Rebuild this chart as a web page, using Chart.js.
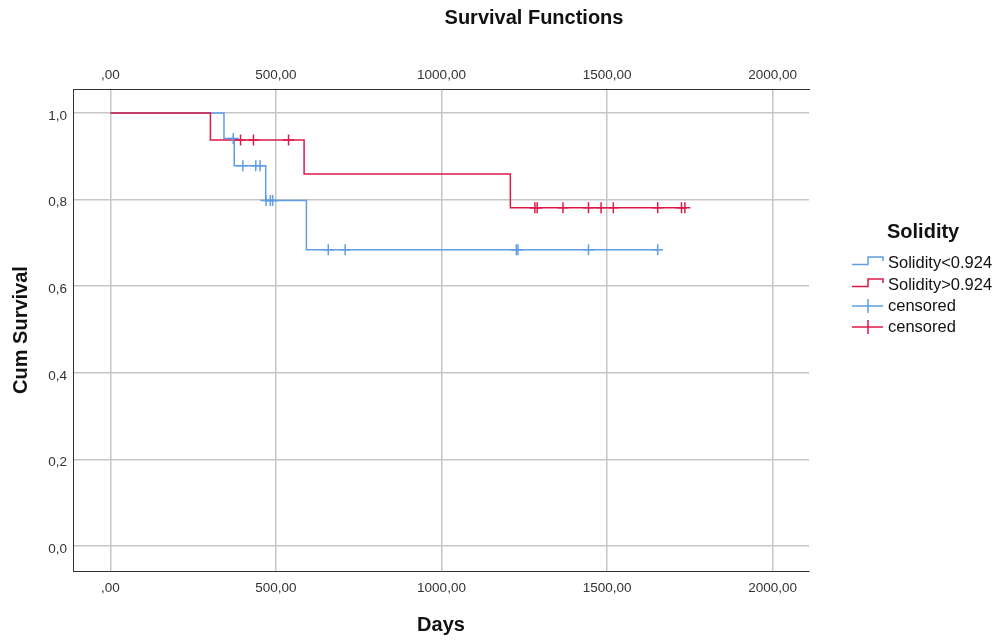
<!DOCTYPE html>
<html>
<head>
<meta charset="utf-8">
<script src="https://cdn.jsdelivr.net/npm/chart.js@4"></script>
<style>
  html, body { margin: 0; padding: 0; background: #fff; }
  #wrap { width: 1000px; height: 641px; position: relative; }
</style>
</head>
<body>
<div id="wrap"><canvas id="c" width="1000" height="641"></canvas></div>
<script>
// Kaplan-Meier survival by solidity group
const chartTitle = 'Survival Functions';
const legendTitle = 'Solidity';
const legendLabels = ['Solidity<0.924', 'Solidity>0.924', 'censored', 'censored'];

// event days and cumulative survival just after each event
const lowEventDays = [343, 374, 469, 592];
const lowSurvival = [0.941, 0.878, 0.798, 0.684];
const lowCensoredDays = [371, 400, 439, 452, 470, 483, 490, 658, 709, 1226, 1231, 1444, 1653];

const highEventDays = [302, 585, 1208];
const highSurvival = [0.9375, 0.859, 0.781];
const highCensoredDays = [393, 432, 538, 1282, 1289, 1367, 1444, 1482, 1519, 1653, 1725, 1735];

const xTickValues = [0, 500, 1000, 1500, 2000];
const xTickLabels = [',00', '500,00', '1000,00', '1500,00', '2000,00'];
const yTickValues = [0, 0.2, 0.4, 0.6, 0.8, 1.0];
const yTickLabels = ['0,0', '0,2', '0,4', '0,6', '0,8', '1,0'];

const BLUE = '#5f9de6';
const RED = '#dc1a4a';
const FONT = '"Liberation Sans", Arial, sans-serif';

// step curve: starts at 1 on day 0, ends at the last follow-up day
function stepCurve(days, surv, censored) {
  const pts = [{ x: 0, y: 1 }];
  days.forEach((d, i) => pts.push({ x: d, y: surv[i] }));
  const last = Math.max(days[days.length - 1], ...censored);
  pts.push({ x: last, y: surv[surv.length - 1] });
  return pts;
}
// survival level at a given day, for placing censor marks on the curve
function levelAt(days, surv, t) {
  let s = 1;
  days.forEach((d, i) => { if (d <= t) s = surv[i]; });
  return s;
}
function censorPoints(days, surv, censored) {
  return censored.map(t => ({ x: t, y: levelAt(days, surv, t) }));
}

const fixedTicks = (values) => (scale) => { scale.ticks = values.map(v => ({ value: v })); };

const titlePlugin = {
  id: 'topTitle',
  afterDraw(chart) {
    const ctx = chart.ctx;
    ctx.save();
    ctx.font = 'bold 20px ' + FONT;
    ctx.fillStyle = '#111';
    ctx.textAlign = 'center';
    ctx.textBaseline = 'alphabetic';
    ctx.fillText(chartTitle, 534, 24);
    ctx.restore();
  }
};

const legendPlugin = {
  id: 'stepLegend',
  afterDraw(chart) {
    const ctx = chart.ctx;
    ctx.save();
    ctx.fillStyle = '#111';
    ctx.textAlign = 'left';
    ctx.textBaseline = 'middle';
    ctx.font = 'bold 20px ' + FONT;
    ctx.fillText(legendTitle, 887, 232);

    const rows = [263, 285, 306, 327];
    const colors = [BLUE, RED, BLUE, RED];
    ctx.lineWidth = 1.5;
    rows.forEach((y, i) => {
      ctx.strokeStyle = colors[i];
      ctx.beginPath();
      if (i < 2) {
        ctx.moveTo(852, y + 1.5);
        ctx.lineTo(868, y + 1.5);
        ctx.lineTo(868, y - 6);
        ctx.lineTo(883, y - 6);
        ctx.lineTo(883, y - 2);
      } else {
        ctx.moveTo(852, y);
        ctx.lineTo(883, y);
        ctx.moveTo(868, y - 7);
        ctx.lineTo(868, y + 7);
      }
      ctx.stroke();
      ctx.fillStyle = '#111';
      ctx.font = '16.5px ' + FONT;
      ctx.fillText(legendLabels[i], 888, y);
    });
    ctx.restore();
  }
};

const xTickCallback = (v) => { const i = xTickValues.indexOf(v); return i < 0 ? '' : xTickLabels[i]; };
const yTickCallback = (v) => { const i = yTickValues.indexOf(v); return i < 0 ? '' : yTickLabels[i]; };

const tickFont = { family: FONT, size: 13.5 };
const gridColor = '#c6c6c6';
const borderColor = '#333';

new Chart(document.getElementById('c'), {
  type: 'line',
  data: {
    datasets: [
      {
        label: legendLabels[0],
        data: stepCurve(lowEventDays, lowSurvival, lowCensoredDays),
        borderColor: BLUE, borderWidth: 1.5, stepped: 'before',
        pointRadius: 0, fill: false, order: 4
      },
      {
        label: legendLabels[1],
        data: stepCurve(highEventDays, highSurvival, highCensoredDays),
        borderColor: RED, borderWidth: 1.5, stepped: 'before',
        pointRadius: 0, fill: false, order: 3
      },
      {
        label: legendLabels[2],
        data: censorPoints(lowEventDays, lowSurvival, lowCensoredDays),
        showLine: false, pointStyle: 'cross', pointRadius: 5.5,
        pointBorderColor: BLUE, pointBorderWidth: 1.5, borderColor: BLUE, order: 2
      },
      {
        label: legendLabels[3],
        data: censorPoints(highEventDays, highSurvival, highCensoredDays),
        showLine: false, pointStyle: 'cross', pointRadius: 5.5,
        pointBorderColor: RED, pointBorderWidth: 1.5, borderColor: RED, order: 1
      }
    ]
  },
  options: {
    responsive: false,
    animation: false,
    events: [],
    layout: { padding: { left: 0, top: 0, right: 191, bottom: 0 } },
    plugins: { legend: { display: false }, tooltip: { enabled: false }, title: { display: false } },
    scales: {
      x: {
        type: 'linear', position: 'bottom', min: -113, max: 2110,
        afterBuildTicks: fixedTicks(xTickValues),
        afterFit: (s) => { s.height = 70; },
        ticks: { callback: xTickCallback, font: tickFont, color: '#333', padding: 9, maxRotation: 0, autoSkip: false },
        grid: { color: gridColor, lineWidth: 1.5, drawTicks: false },
        border: { color: borderColor, width: 1 },
        title: { display: true, text: 'Days', font: { family: FONT, size: 20, weight: 'bold' }, color: '#111', padding: { top: 0, bottom: 4 } }
      },
      x2: {
        type: 'linear', position: 'top', min: -113, max: 2110,
        afterBuildTicks: fixedTicks(xTickValues),
        afterFit: (s) => { s.height = 89; },
        ticks: { callback: xTickCallback, font: tickFont, color: '#333', padding: 6, maxRotation: 0, autoSkip: false },
        grid: { display: false, drawTicks: false },
        border: { color: borderColor, width: 1 }
      },
      y: {
        type: 'linear', position: 'left', min: -0.0578, max: 1.0555,
        afterBuildTicks: fixedTicks(yTickValues),
        afterFit: (s) => { s.width = 73; },
        ticks: { callback: yTickCallback, font: tickFont, color: '#333', padding: 6, labelOffset: 3, autoSkip: false },
        grid: { color: gridColor, lineWidth: 1.5, drawTicks: false },
        border: { color: borderColor, width: 1 },
        title: { display: true, text: 'Cum Survival', font: { family: FONT, size: 20, weight: 'bold' }, color: '#111', padding: { top: 9, bottom: 0 } }
      }
    }
  },
  plugins: [titlePlugin, legendPlugin]
});
</script>
</body>
</html>
